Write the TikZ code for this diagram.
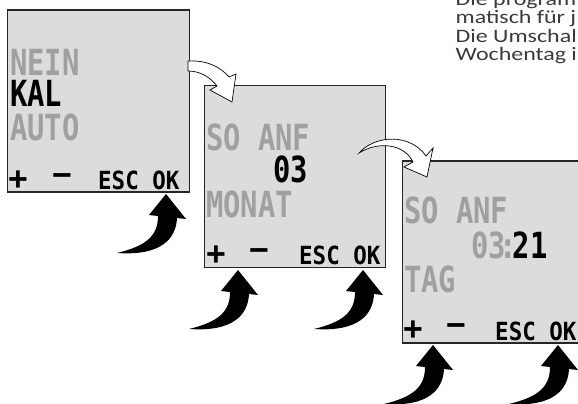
\documentclass[tikz,border=0pt]{standalone}
\usepackage{fontspec}
\usepackage{graphicx}
\usepackage{tikz}
\newfontfamily\lcdfont{DejaVu Sans Mono}
\newfontfamily\notefont{Carlito}
\definecolor{lcdback}{HTML}{DCDCDC}
\definecolor{lcdgray}{HTML}{A0A0A0}
\definecolor{notegray}{HTML}{3A3A3A}
\newcommand{\lcdbig}[1]{{\lcdfont\bfseries\fontsize{36}{36}\selectfont\scalebox{0.8}[1]{#1}}}
\newcommand{\lcdkey}[1]{{\lcdfont\bfseries\fontsize{25}{25}\selectfont\scalebox{0.9}[1]{#1}}}
\newcommand{\lcdsign}[1]{{\lcdfont\bfseries\fontsize{32}{32}\selectfont #1}}
\newcommand{\notetext}[1]{{\notefont\fontsize{19}{19}\selectfont\scalebox{1.26}[1]{#1}}}
\tikzstyle{screen}=[draw=black!85, fill=lcdback, line width=1.1pt, minimum width=181.5pt, minimum height=182pt, inner sep=0pt]
\tikzstyle{dim}=[text=lcdgray, anchor=base west, inner sep=0pt]
\tikzstyle{lit}=[text=black, anchor=base west, inner sep=0pt]
\tikzstyle{key}=[text=black, inner sep=0pt]
\tikzstyle{flow}=[fill=white, draw=black, line width=0.7pt, line join=miter]
\tikzstyle{push}=[fill=black]
\tikzstyle{note}=[text=notegray, anchor=base west, inner sep=0pt]
\newcommand{\pusharrow}[2]{\fill[push, shift={(#1,#2)}] (0,0) -- (20,25) -- (11,24) .. controls (10,45) and (-5,62) .. (-49,59) .. controls (-20,52) and (-8,42) .. (-8,22) -- (-17,21) -- cycle;}

\begin{document}
\begin{tikzpicture}[x=1pt, y=-1pt]
	\useasboundingbox (0,0) rectangle (578,404);
	% screens
	\node[screen] (s1) at (98.5,101) {};
	\node[screen] (s2) at (295,176.5) {};
	\node[screen] (s3) at (493,252) {};

	% screen 1
	\node[dim] (s1a) at (10,75) {\lcdbig{NEIN}};
	\node[lit] (s1b) at (10,106) {\lcdbig{KAL}};
	\node[dim] (s1c) at (10,140) {\lcdbig{AUTO}};
	\node[key] (s1p) at (18,180) {\lcdsign{+}};
	\node[key] (s1m) at (62,180) {\lcdsign{−}};
	\node[lit] (s1k) at (98,189) {\lcdkey{ESC OK}};

	% screen 2
	\node[dim] (s2a) at (206,150) {\lcdbig{SO ANF}};
	\node[lit] (s2b) at (273,182) {\lcdbig{03}};
	\node[dim] (s2c) at (206,217) {\lcdbig{MONAT}};
	\node[key] (s2p) at (216,255) {\lcdsign{+}};
	\node[key] (s2m) at (259,255) {\lcdsign{−}};
	\node[lit] (s2k) at (299,264) {\lcdkey{ESC OK}};

	% screen 3
	\node[dim] (s3a) at (404,223) {\lcdbig{SO ANF}};
	\node[lit] (s3b) at (471,258) {\lcdbig{\textcolor{lcdgray}{03\kern-8pt:}\kern-5pt21}};
	\node[dim] (s3c) at (404,292) {\lcdbig{TAG}};
	\node[key] (s3p) at (413,330) {\lcdsign{+}};
	\node[key] (s3m) at (456,330) {\lcdsign{−}};
	\node[lit] (s3k) at (495,340) {\lcdkey{ESC OK}};

	% next screen
	\path[flow] (188,61) .. controls (205,60) and (220,66) .. (229,77) -- (236,74) -- (232,102) -- (210,90) -- (217,86) .. controls (210,77) and (200,71) .. (188,71) -- cycle;
	\path[flow] (359,153) .. controls (375,135) and (410,133) .. (426,156) -- (433,148) -- (427,177) -- (404,167) -- (413,162) .. controls (405,145) and (380,140) .. (359,153) -- cycle;

	% key presses
	\pusharrow{166}{194}
	\pusharrow{238}{270}
	\pusharrow{363}{270}
	\pusharrow{433}{345}
	\pusharrow{558}{345}

	% text
	\node[note] (n1) at (455.5,5.5) {\notetext{Die program}};
	\node[note] (n2) at (455.5,24) {\notetext{matisch für j}};
	\node[note] (n3) at (455.5,42.5) {\notetext{Die Umschal}};
	\node[note] (n4) at (455.5,61) {\notetext{Wochentag i}};
\end{tikzpicture}
\end{document}
